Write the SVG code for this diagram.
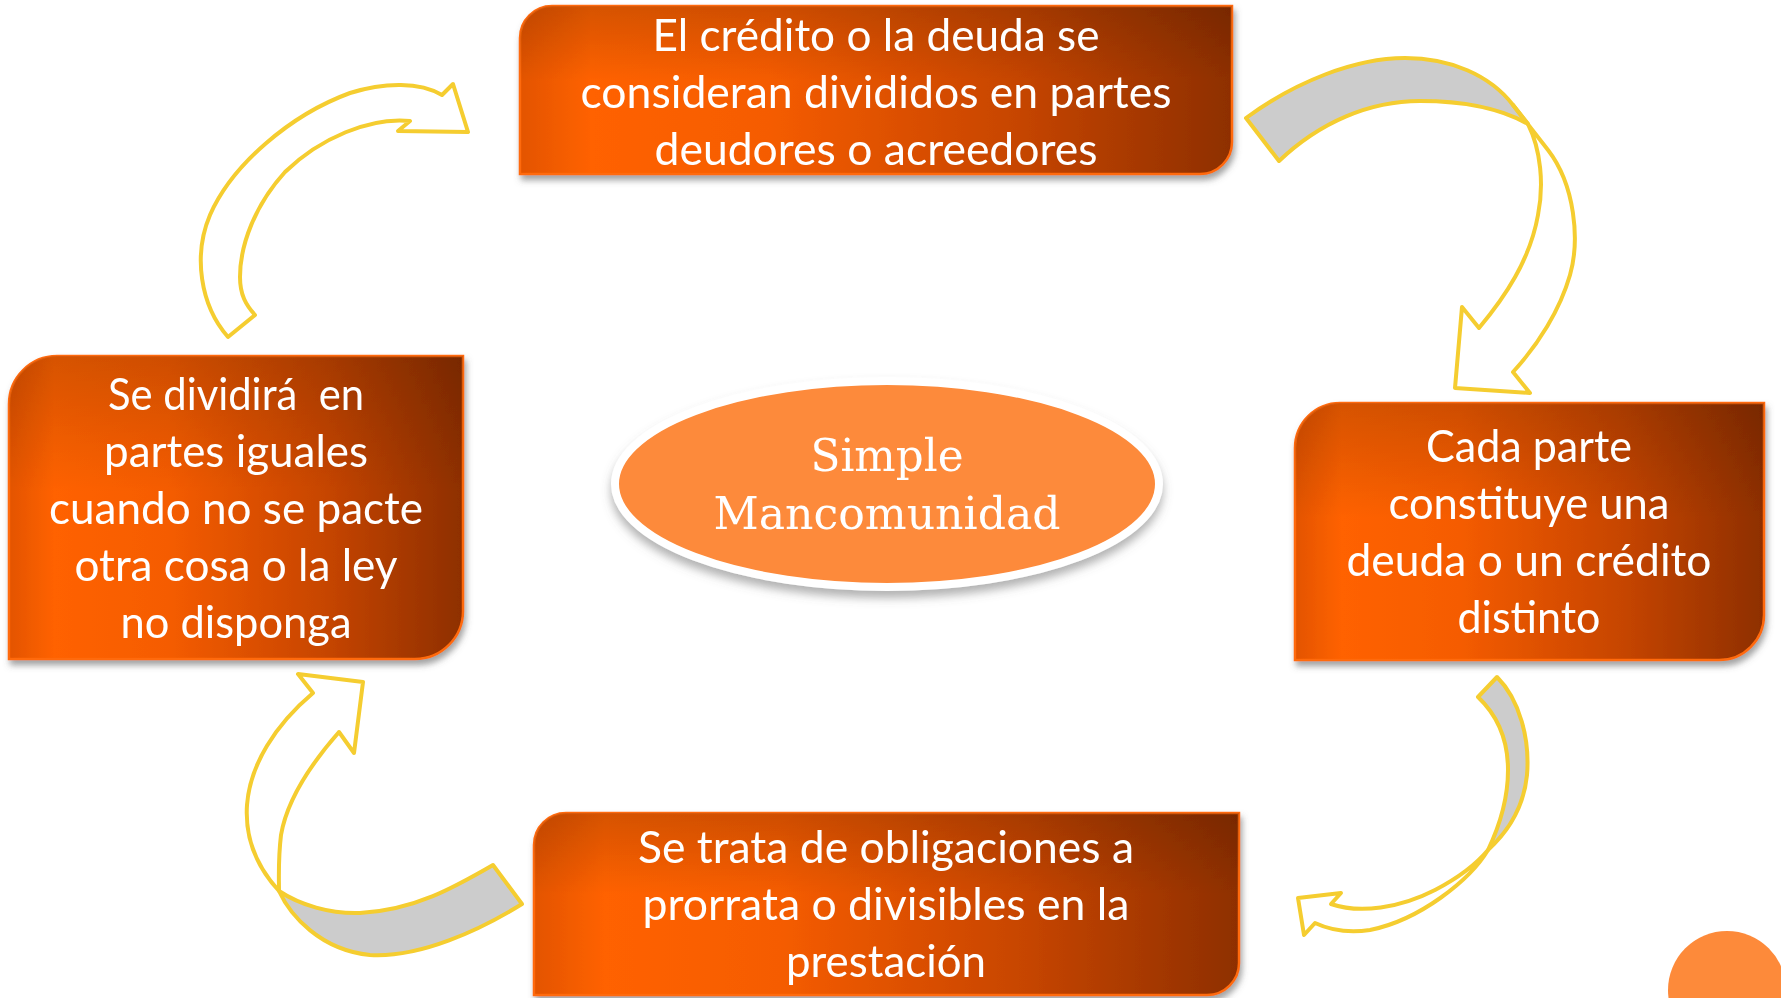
<svg xmlns="http://www.w3.org/2000/svg" width="1781" height="998" viewBox="0 0 1781 998">
<defs>
<linearGradient id="boxGrad" x1="0" y1="0" x2="1" y2="0">
<stop offset="0" stop-color="#E35400"/>
<stop offset="0.1" stop-color="#FF6200"/>
<stop offset="0.35" stop-color="#F55C00"/>
<stop offset="0.7" stop-color="#C64500"/>
<stop offset="1" stop-color="#8E2F00"/>
</linearGradient>
<linearGradient id="boxShade" x1="0" y1="0" x2="0" y2="1">
<stop offset="0" stop-color="#000" stop-opacity="0.16"/>
<stop offset="0.45" stop-color="#000" stop-opacity="0"/>
<stop offset="1" stop-color="#000" stop-opacity="0"/>
</linearGradient>
<filter id="shadow" x="-5%" y="-5%" width="112%" height="120%">
<feDropShadow dx="2" dy="5" stdDeviation="3" flood-color="#555" flood-opacity="0.55"/>
</filter>
<filter id="eshadow" x="-10%" y="-10%" width="120%" height="130%">
<feDropShadow dx="0" dy="7" stdDeviation="5" flood-color="#666" flood-opacity="0.5"/>
</filter>
<style>
.box{fill:url(#boxGrad);stroke:#FF6A0A;stroke-width:2.5}
.shade{fill:url(#boxShade)}
.t{font-family:Lato,"Open Sans","Liberation Sans",sans-serif;font-size:44px;fill:#fff;text-anchor:middle}
.s{font-family:"DejaVu Serif","Liberation Serif",serif;font-size:44px;fill:#fff;text-anchor:middle}
.arr{stroke:#F5CD30;stroke-width:4;stroke-linejoin:round;fill:#fff}
.back{stroke:#F5CD30;stroke-width:4;stroke-linejoin:round;fill:#CCCCCC}
</style>
</defs>
<rect width="1781" height="998" fill="#fff"/>

<g id="connectors">
<g id="arrow-top-left">
<path class="arr" d="M228,337 C200,305 193,255 210,215 C232,165 290,115 350,93 C385,82 420,82 442,95 L453,84 L468,132 L398,131 L410,121 C370,117 320,138 285,172 C255,205 240,245 240,277 C240,295 246,305 255,315 Z"/>
</g>
<g id="arrow-top-right">
<path class="back" d="M1246,118 C1295,82 1355,58 1405,58 C1450,58 1490,75 1513,105 L1528,124 C1500,108 1460,101 1420,101 C1370,101 1320,122 1279,161 Z"/>
<path class="arr" d="M1528,124 L1513,105 L1548,150 C1575,185 1580,240 1570,275 C1560,310 1538,345 1513,372 L1530,393 L1455,388 L1462,307 L1479,328 C1505,297 1530,260 1538,215 C1544,185 1541,150 1528,124 Z"/>
</g>
<g id="arrow-bottom-right">
<path class="back" d="M1497,677 C1520,700 1530,740 1527,775 C1524,805 1510,830 1488,850 C1500,825 1508,800 1508,770 C1508,740 1497,715 1478,697 Z"/>
<path class="arr" d="M1488,850 C1470,880 1420,920 1370,930 C1350,933 1330,930 1315,923 L1304,935 L1298,898 L1341,893 L1331,904 C1360,914 1400,908 1435,890 C1460,877 1478,862 1488,850 Z"/>
</g>
<g id="arrow-bottom-left">
<path class="back" d="M493,865 C455,887 415,910 360,913 C330,914 300,905 279,891 C290,915 320,950 370,955 C420,958 480,930 522,904 Z"/>
<path class="arr" d="M279,891 C255,865 245,835 247,805 C250,765 275,725 313,693 L298,674 L363,682 L354,753 L339,732 C310,765 287,800 281,835 C278,860 279,878 279,891 Z"/>
</g>
</g>

<g id="node-top" filter="url(#shadow)">
<path class="box" d="M552,6 H1232 V142 A32,32 0 0 1 1200,174 H520 V38 A32,32 0 0 1 552,6 Z"/>
<path class="shade" d="M552,6 H1232 V142 A32,32 0 0 1 1200,174 H520 V38 A32,32 0 0 1 552,6 Z"/>
<text class="t" x="876" y="51" textLength="447" lengthAdjust="spacingAndGlyphs">El crédito o la deuda se</text>
<text class="t" x="876" y="108" textLength="591" lengthAdjust="spacingAndGlyphs">consideran divididos en partes</text>
<text class="t" x="876" y="165" textLength="443" lengthAdjust="spacingAndGlyphs">deudores o acreedores</text>
</g>

<g id="node-right" filter="url(#shadow)">
<path class="box" d="M1340,403 H1764 V615 A45,45 0 0 1 1719,660 H1295 V448 A45,45 0 0 1 1340,403 Z"/>
<path class="shade" d="M1340,403 H1764 V615 A45,45 0 0 1 1719,660 H1295 V448 A45,45 0 0 1 1340,403 Z"/>
<text class="t" x="1529" y="462" textLength="206" lengthAdjust="spacingAndGlyphs">Cada parte</text>
<text class="t" x="1529" y="519" textLength="281" lengthAdjust="spacingAndGlyphs">constituye una</text>
<text class="t" x="1529" y="576" textLength="365" lengthAdjust="spacingAndGlyphs">deuda o un crédito</text>
<text class="t" x="1529" y="633" textLength="143" lengthAdjust="spacingAndGlyphs">distinto</text>
</g>

<g id="node-bottom" filter="url(#shadow)">
<path class="box" d="M566,813 H1239 V963 A32,32 0 0 1 1207,995 H534 V845 A32,32 0 0 1 566,813 Z"/>
<path class="shade" d="M566,813 H1239 V963 A32,32 0 0 1 1207,995 H534 V845 A32,32 0 0 1 566,813 Z"/>
<text class="t" x="886" y="863" textLength="496" lengthAdjust="spacingAndGlyphs">Se trata de obligaciones a</text>
<text class="t" x="886" y="920" textLength="487" lengthAdjust="spacingAndGlyphs">prorrata o divisibles en la</text>
<text class="t" x="886" y="977" textLength="200" lengthAdjust="spacingAndGlyphs">prestación</text>
</g>

<g id="node-left" filter="url(#shadow)">
<path class="box" d="M57,356 H463 V611 A48,48 0 0 1 415,659 H9 V404 A48,48 0 0 1 57,356 Z"/>
<path class="shade" d="M57,356 H463 V611 A48,48 0 0 1 415,659 H9 V404 A48,48 0 0 1 57,356 Z"/>
<text class="t" x="236" y="410" textLength="256" lengthAdjust="spacingAndGlyphs" style="white-space:pre">Se dividirá  en</text>
<text class="t" x="236" y="467" textLength="264" lengthAdjust="spacingAndGlyphs">partes iguales</text>
<text class="t" x="236" y="524" textLength="374" lengthAdjust="spacingAndGlyphs">cuando no se pacte</text>
<text class="t" x="236" y="581" textLength="323" lengthAdjust="spacingAndGlyphs">otra cosa o la ley</text>
<text class="t" x="236" y="638" textLength="231" lengthAdjust="spacingAndGlyphs">no disponga</text>
</g>

<g id="node-center" filter="url(#eshadow)">
<ellipse cx="887" cy="484" rx="272" ry="103" fill="#FD8A3A" stroke="#fff" stroke-width="8"/>
<text class="s" x="887" y="471" textLength="153" lengthAdjust="spacingAndGlyphs">Simple</text>
<text class="s" x="887" y="529" textLength="347" lengthAdjust="spacingAndGlyphs">Mancomunidad</text>
</g>

<circle cx="1727" cy="990" r="59" fill="#FD8A3A"/>
</svg>
